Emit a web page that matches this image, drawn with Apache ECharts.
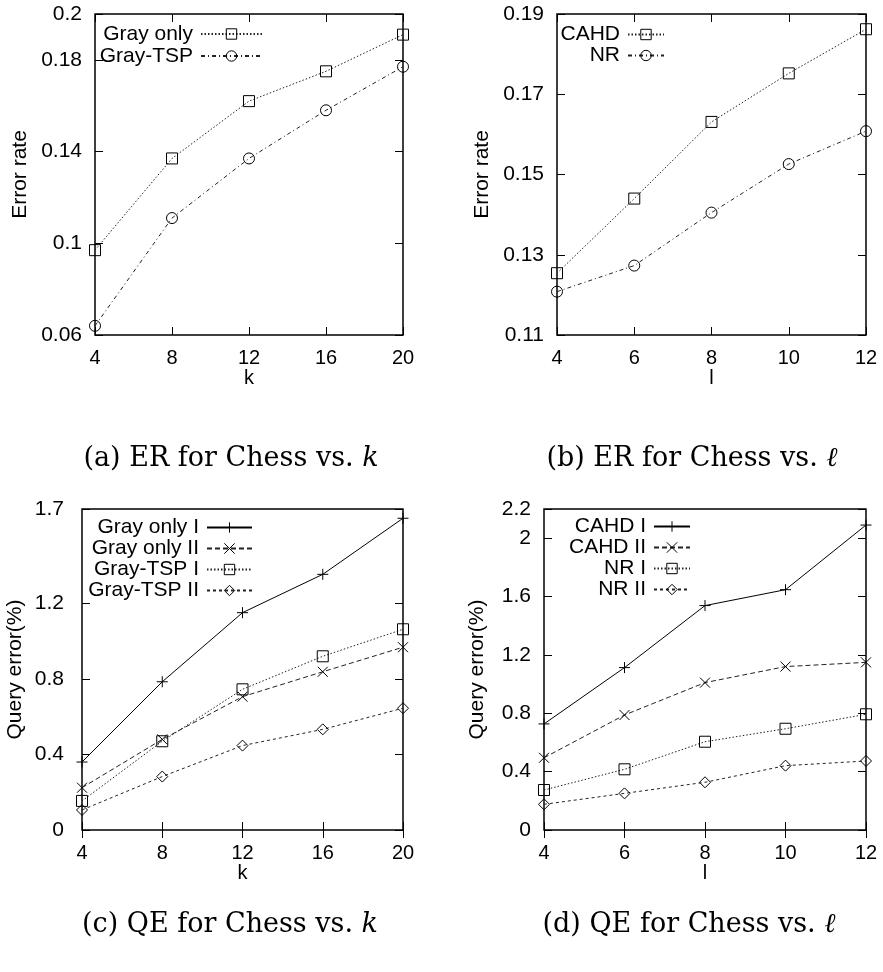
<!DOCTYPE html>
<html>
<head>
<meta charset="utf-8">
<script src="https://cdn.jsdelivr.net/npm/echarts@6/dist/echarts.min.js"></script>
<style>
  html, body { margin: 0; background: #fff; }
  #chart { width: 883px; height: 972px; }
</style>
</head>
<body>
<div id="chart"></div>
<script>
// x values
const kValues = [4, 8, 12, 16, 20];
const lValues = [4, 6, 8, 10, 12];

// (a) error rate vs k
const erGrayOnly = [0.097, 0.137, 0.162, 0.175, 0.191];
const erGrayTsp = [0.064, 0.111, 0.137, 0.158, 0.177];
// (b) error rate vs l
const erCahd = [0.1254, 0.144, 0.1631, 0.1752, 0.1862];
const erNr = [0.1208, 0.1273, 0.1405, 0.1526, 0.1608];
// (c) query error vs k
const qeGrayOnlyI = [0.36, 0.785, 1.151, 1.354, 1.651];
const qeGrayOnlyII = [0.224, 0.48, 0.706, 0.838, 0.968];
const qeGrayTspI = [0.154, 0.47, 0.745, 0.92, 1.063];
const qeGrayTspII = [0.106, 0.283, 0.447, 0.533, 0.645];
// (d) query error vs l
const qeCahdI = [0.727, 1.113, 1.538, 1.647, 2.09];
const qeCahdII = [0.495, 0.788, 1.01, 1.12, 1.149];
const qeNrI = [0.274, 0.416, 0.605, 0.694, 0.793];
const qeNrII = [0.176, 0.251, 0.327, 0.441, 0.473];

// tick labels
const yTicksA = [0.06, 0.1, 0.14, 0.18, 0.2];
const yTicksB = [0.11, 0.13, 0.15, 0.17, 0.19];
const yTicksC = [0, 0.4, 0.8, 1.2, 1.7];
const yTicksD = [0, 0.4, 0.8, 1.2, 1.6, 2, 2.2];

const FONT = 'Liberation Sans';
const PLUS = 'path://M0,5L10,5M5,0L5,10';
const CROSS = 'path://M0,0L10,10M10,0L0,10';

// line styles (gnuplot-ish)
const SOLID = 'solid';
const DOTTED = [1.5, 2];
const DASHDOT = [4, 3, 1, 3];
const DASHED = [5, 3];
const SHORTDASH = [3, 3];

const panels = [
  {
    grid: { left: 95, top: 14, width: 308, height: 321 },
    xTicks: kValues, yTicks: yTicksA, xName: 'k', yName: 'Error rate',
    labelMargin: 13, yNameGap: 64, xNameGap: 32,
    legend: { right: 615, top: 18, itemWidth: 61, lineHeight: 22 },
    series: [
      { name: 'Gray only', x: kValues, y: erGrayOnly, symbol: 'rect', size: 11, type: DOTTED },
      { name: 'Gray-TSP', x: kValues, y: erGrayTsp, symbol: 'circle', size: 11, type: DASHDOT }
    ]
  },
  {
    grid: { left: 557, top: 14, width: 309, height: 321 },
    xTicks: lValues, yTicks: yTicksB, xName: 'l', yName: 'Error rate',
    labelMargin: 13, yNameGap: 64, xNameGap: 32,
    legend: { right: 213, top: 19, itemWidth: 36, lineHeight: 20 },
    series: [
      { name: 'CAHD', x: lValues, y: erCahd, symbol: 'rect', size: 11, type: DOTTED },
      { name: 'NR', x: lValues, y: erNr, symbol: 'circle', size: 11, type: DASHDOT }
    ]
  },
  {
    grid: { left: 82, top: 509, width: 321, height: 321 },
    xTicks: kValues, yTicks: yTicksC, xName: 'k', yName: 'Query error(%)',
    labelMargin: 18, yNameGap: 56, xNameGap: 32,
    legend: { right: 625, top: 512, itemWidth: 45, lineHeight: 19.3 },
    series: [
      { name: 'Gray only I', x: kValues, y: qeGrayOnlyI, symbol: PLUS, size: 11, type: SOLID },
      { name: 'Gray only II', x: kValues, y: qeGrayOnlyII, symbol: CROSS, size: 10, type: DASHED },
      { name: 'Gray-TSP I', x: kValues, y: qeGrayTspI, symbol: 'rect', size: 11, type: DOTTED },
      { name: 'Gray-TSP II', x: kValues, y: qeGrayTspII, symbol: 'diamond', size: 11, type: SHORTDASH }
    ]
  },
  {
    grid: { left: 544, top: 509, width: 322, height: 321 },
    xTicks: lValues, yTicks: yTicksD, xName: 'l', yName: 'Query error(%)',
    labelMargin: 13, yNameGap: 56, xNameGap: 32,
    legend: { right: 187, top: 511, itemWidth: 36, lineHeight: 19.3 },
    series: [
      { name: 'CAHD I', x: lValues, y: qeCahdI, symbol: PLUS, size: 11, type: SOLID },
      { name: 'CAHD II', x: lValues, y: qeCahdII, symbol: CROSS, size: 10, type: DASHED },
      { name: 'NR I', x: lValues, y: qeNrI, symbol: 'rect', size: 11, type: DOTTED },
      { name: 'NR II', x: lValues, y: qeNrII, symbol: 'diamond', size: 11, type: SHORTDASH }
    ]
  }
];

const fmt = (v) => String(+v.toFixed(3));
const yLabelStyle = { color: '#000', fontSize: 21, fontFamily: FONT };
const xLabelStyle = { color: '#000', fontSize: 20, fontFamily: FONT };
const tickStyle = { color: '#000', width: 1 };

const grids = [], xAxes = [], yAxes = [], legends = [], series = [];

panels.forEach((p, i) => {
  grids.push(Object.assign({ show: true, borderColor: '#000', borderWidth: 1.5 }, p.grid));

  const xMin = p.xTicks[0], xMax = p.xTicks[p.xTicks.length - 1];
  const yMin = p.yTicks[0], yMax = p.yTicks[p.yTicks.length - 1];

  ['bottom', 'top'].forEach((pos) => {
    xAxes.push({
      gridIndex: i, type: 'value', position: pos, min: xMin, max: xMax,
      axisLine: { show: false },
      splitLine: { show: false },
      axisTick: { inside: true, length: 8, customValues: p.xTicks, lineStyle: tickStyle },
      axisLabel: pos === 'bottom'
        ? Object.assign({ customValues: p.xTicks, margin: 13, formatter: fmt }, xLabelStyle)
        : { show: false },
      name: pos === 'bottom' ? p.xName : '',
      nameLocation: 'middle', nameGap: p.xNameGap, nameTextStyle: xLabelStyle
    });
  });

  ['left', 'right'].forEach((pos) => {
    yAxes.push({
      gridIndex: i, type: 'value', position: pos, min: yMin, max: yMax,
      axisLine: { show: false },
      splitLine: { show: false },
      axisTick: { inside: true, length: 8, customValues: p.yTicks, lineStyle: tickStyle },
      axisLabel: pos === 'left'
        ? Object.assign({ customValues: p.yTicks, margin: p.labelMargin, formatter: fmt }, yLabelStyle)
        : { show: false },
      name: pos === 'left' ? p.yName : '',
      nameLocation: 'middle', nameRotate: 90, nameGap: p.yNameGap, nameTextStyle: yLabelStyle
    });
  });

  legends.push({
    orient: 'vertical', align: 'right', right: p.legend.right, top: p.legend.top,
    itemWidth: p.legend.itemWidth, itemHeight: 13, itemGap: 0,
    selectedMode: false,
    data: p.series.map((s) => s.name),
    textStyle: {
      color: '#000', fontSize: 21, fontFamily: FONT,
      lineHeight: p.legend.lineHeight, padding: [0, 3, 0, 0]
    },
    itemStyle: { color: 'rgba(0,0,0,0)', borderColor: '#000', borderWidth: 1 }
  });

  p.series.forEach((s) => {
    series.push({
      type: 'line', name: s.name,
      xAxisIndex: i * 2, yAxisIndex: i * 2,
      data: s.x.map((x, j) => [x, s.y[j]]),
      symbol: s.symbol, symbolSize: s.size, showAllSymbol: true,
      clip: false, animation: false,
      lineStyle: { color: s.type === SOLID ? '#000' : '#222', width: 1, type: s.type },
      itemStyle: { color: 'rgba(0,0,0,0)', borderColor: '#000', borderWidth: 1 }
    });
  });
});

// captions
const captions = [
  { x: 231, y: 459, text: '{n|(a) ER for Chess vs. }{i|k}' },
  { x: 692, y: 459, text: '{n|(b) ER for Chess vs. }{i|ℓ}' },
  { x: 230, y: 925, text: '{n|(c) QE for Chess vs. }{i|k}' },
  { x: 689, y: 925, text: '{n|(d) QE for Chess vs. }{i|ℓ}' }
];
const capFont = { fontSize: 27, fontFamily: 'DejaVu Serif', fill: '#000' };

const chart = echarts.init(document.getElementById('chart'), null, { renderer: 'canvas' });
chart.setOption({
  backgroundColor: '#fff',
  animation: false,
  grid: grids,
  xAxis: xAxes,
  yAxis: yAxes,
  legend: legends,
  series: series,
  graphic: captions.map((c) => ({
    type: 'text', x: c.x, y: c.y,
    style: {
      text: c.text, align: 'center', verticalAlign: 'middle',
      rich: {
        n: Object.assign({}, capFont),
        i: Object.assign({ fontStyle: 'italic' }, capFont)
      }
    }
  }))
});
window.addEventListener('resize', () => chart.resize());
</script>
</body>
</html>
